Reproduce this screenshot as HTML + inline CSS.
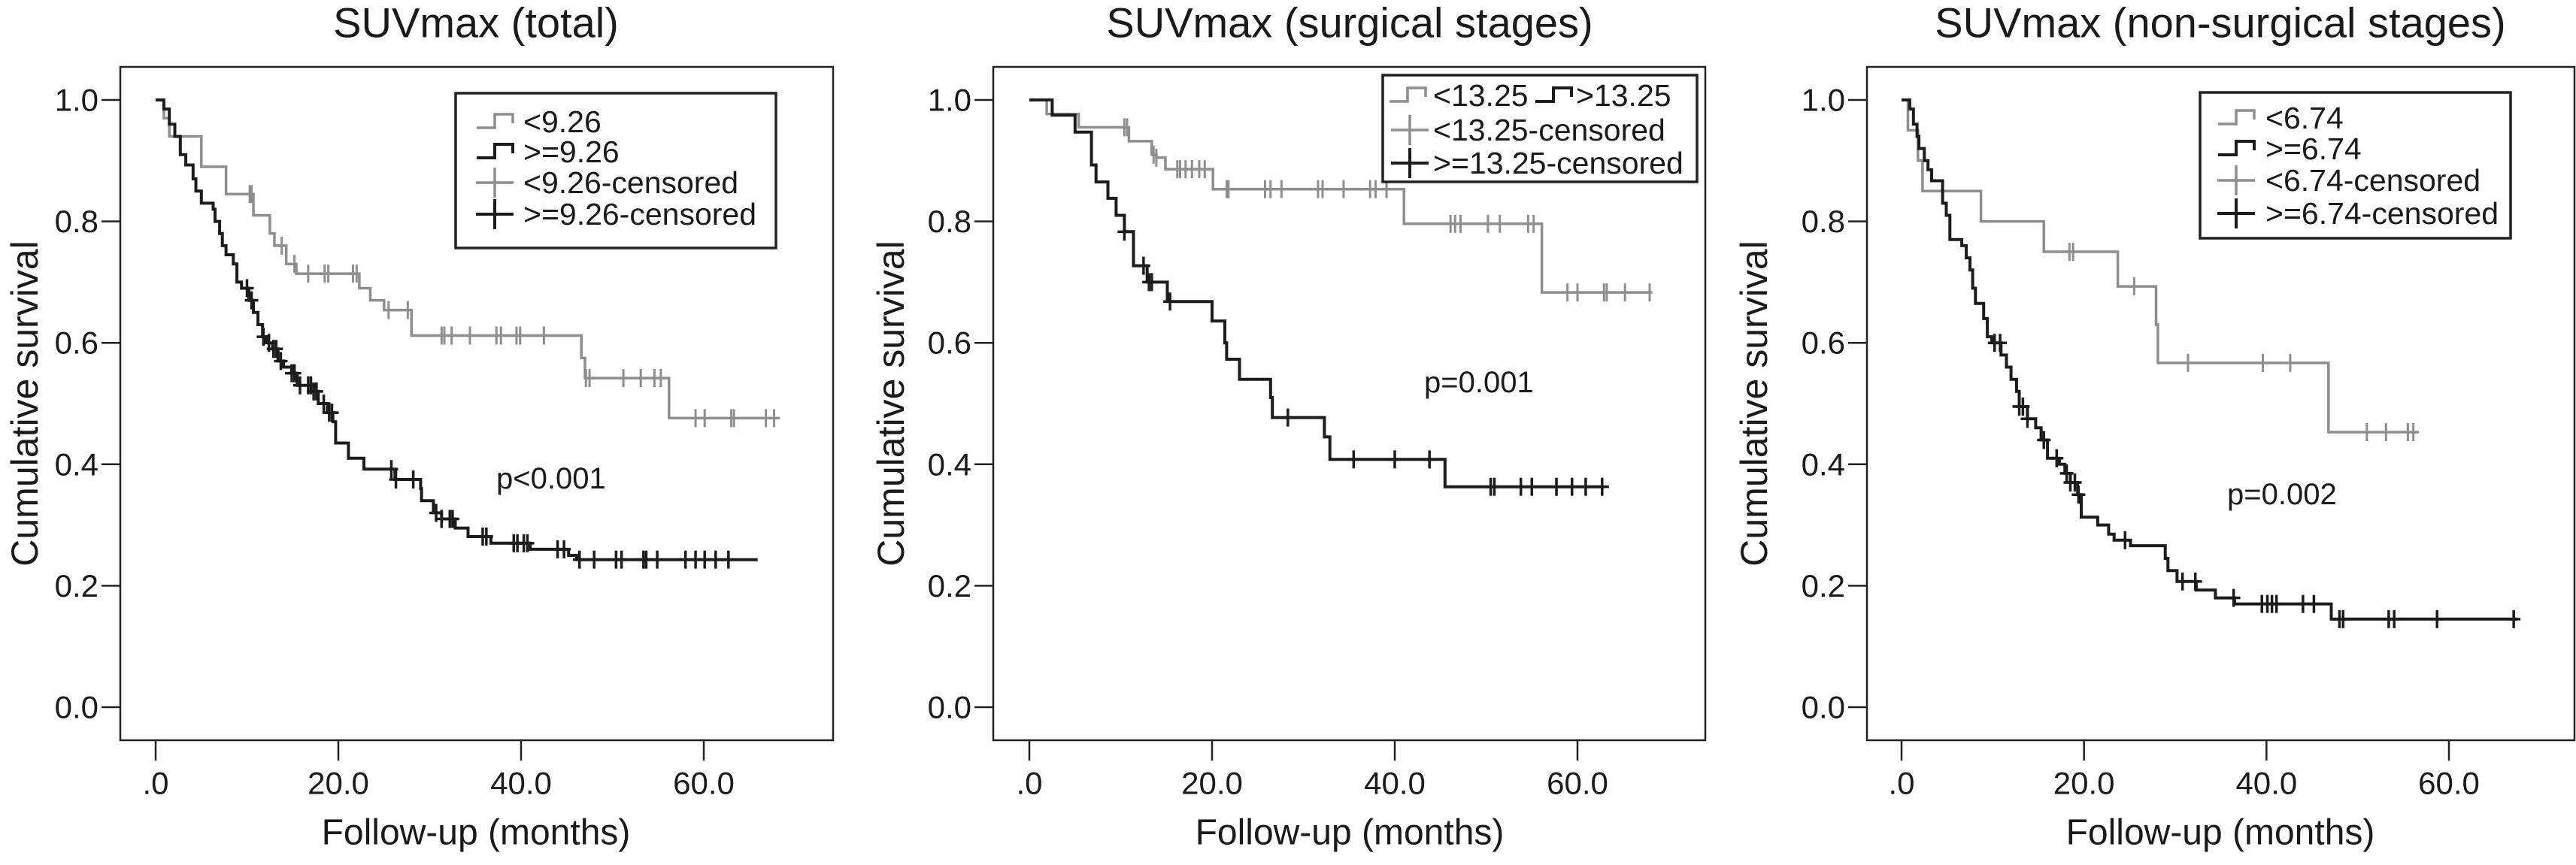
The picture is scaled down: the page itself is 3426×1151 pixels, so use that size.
<!DOCTYPE html>
<html><head><meta charset="utf-8">
<style>
html,body{margin:0;padding:0;background:#fff;}
svg{display:block;font-family:"Liberation Sans",Arial,sans-serif;}
</style></head>
<body>
<svg id="fig" width="3426" height="1151" viewBox="0 0 3426 1151" xmlns="http://www.w3.org/2000/svg"></svg>
<script>
// ---------- data (months, survival) ----------
const yTicks = [0, 0.2, 0.4, 0.6, 0.8, 1.0];
const yTickLabels = ["0.0", "0.2", "0.4", "0.6", "0.8", "1.0"];
const xTicks = [0, 20, 40, 60];
const xTickLabels = [".0", "20.0", "40.0", "60.0"];

// Panel 1: SUVmax (total)
const p1LowTimes = [0.9,1.5,5.0,7.7,10.7,12.5,13.0,14.3,15.4,22.3,23.5,25.0,28.0,46.6,47.0,56.2];
const p1LowSurv  = [0.97,0.94,0.89,0.845,0.81,0.78,0.76,0.73,0.714,0.69,0.67,0.654,0.612,0.575,0.542,0.476];
const p1LowEnd = 68.3;
const p1LowCens = [10.3,10.5,13.8,15.2,16.7,18.5,18.9,21.6,22.0,25.5,27.6,31.3,31.6,32.4,34.4,37.3,37.8,39.5,39.9,42.5,47.1,47.5,51.2,53.1,54.6,55.3,59.1,60.1,63.0,63.3,66.8,67.7];
const p1HighTimes = [0.9,1.5,2.1,2.7,3.3,4.1,4.4,5.0,6.3,6.5,7.0,7.3,7.7,8.5,8.9,9.4,10.2,10.7,11.2,11.7,12.1,12.8,13.4,14.0,14.9,15.5,17.3,17.8,18.8,19.4,19.7,21.1,22.8,26.2,29.0,29.1,30.4,31.3,32.8,34.2,36.7,41.0,45.2,46.1];
const p1HighSurv  = [0.985,0.96,0.94,0.91,0.893,0.87,0.85,0.83,0.82,0.80,0.78,0.76,0.745,0.73,0.70,0.69,0.67,0.65,0.63,0.61,0.60,0.59,0.57,0.56,0.55,0.53,0.52,0.50,0.485,0.47,0.435,0.41,0.392,0.375,0.36,0.34,0.32,0.31,0.295,0.281,0.27,0.26,0.25,0.243];
const p1HighEnd = 65.9;
const p1HighCens = [10.0,10.5,11.8,12.4,12.9,13.2,13.7,14.9,15.2,15.8,16.7,17.0,17.3,17.6,18.4,19.0,19.3,25.8,26.3,28.2,30.7,31.3,32.2,32.5,35.8,36.2,39.2,39.6,40.3,40.7,44.0,44.7,46.4,48.0,50.4,51.0,53.4,53.7,54.9,58.0,59.1,60.1,61.3,62.7];

// Panel 2: SUVmax (surgical stages)
const p2LowTimes = [1.9,5.4,10.9,13.4,13.9,14.9,20.1,41.0,56.1];
const p2LowSurv  = [0.977,0.955,0.932,0.91,0.905,0.886,0.853,0.796,0.683];
const p2LowEnd = 68.2;
const p2LowCens = [10.4,10.7,13.6,13.9,16.2,16.5,17.1,17.8,18.6,19.2,21.6,21.8,25.8,26.4,27.6,31.6,32.1,34.4,37.3,37.9,39.1,46.1,46.6,47.2,50.2,51.5,54.6,55.2,58.9,60.0,62.9,63.2,65.2,67.9];
const p2HighTimes = [2.5,5.0,6.8,7.3,8.6,9.5,10.4,11.4,12.9,15.1,20.0,21.4,21.6,23.0,26.4,26.6,32.3,32.9,45.5];
const p2HighSurv  = [0.975,0.947,0.893,0.865,0.838,0.81,0.783,0.727,0.70,0.668,0.636,0.60,0.573,0.54,0.51,0.477,0.445,0.408,0.363];
const p2HighEnd = 62.9;
const p2HighCens = [10.4,12.5,13.1,13.4,15.4,28.3,35.5,40.0,43.8,50.5,50.9,53.8,55.0,57.7,59.4,60.9,62.7];

// Panel 3: SUVmax (non-surgical stages)
const p3LowTimes = [0.7,1.8,2.3,8.7,15.6,23.7,27.9,28.1,46.8];
const p3LowSurv  = [0.95,0.90,0.85,0.80,0.75,0.693,0.63,0.567,0.453];
const p3LowEnd = 56.7;
const p3LowCens = [18.4,18.8,25.5,31.4,39.6,42.6,51.0,53.1,55.5,56.1];
const p3HighTimes = [0.9,1.3,1.7,1.9,2.5,2.9,3.3,4.5,4.9,5.3,6.6,7.1,7.5,7.8,8.1,9.0,9.4,9.9,10.9,11.5,12.0,12.6,12.9,13.8,14.7,15.3,16.0,17.3,17.9,18.5,19.3,19.7,21.5,22.7,23.3,25.1,28.9,29.2,30.2,32.3,34.4,36.5,47.1];
const p3HighSurv  = [0.985,0.96,0.94,0.92,0.90,0.885,0.867,0.83,0.81,0.77,0.76,0.74,0.72,0.69,0.665,0.64,0.61,0.60,0.58,0.56,0.54,0.52,0.495,0.475,0.46,0.44,0.41,0.40,0.385,0.37,0.35,0.313,0.30,0.285,0.275,0.266,0.245,0.225,0.207,0.193,0.18,0.17,0.145];
const p3HighEnd = 67.5;
const p3HighCens = [10.2,10.8,12.9,13.3,13.8,15.6,17.0,18.1,18.5,19.0,19.4,24.5,30.8,32.2,36.4,39.5,40.1,40.6,41.1,44.0,45.2,48.0,48.4,53.4,54.0,58.7,67.1];

// ---------- drawing ----------
const NS = "http://www.w3.org/2000/svg";
const svg = document.getElementById("fig");
const GRAY = "#8e8e8e", BLACK = "#1c1c1c";
function mk(tag, attrs, parent){
  const e = document.createElementNS(NS, tag);
  for (const k in attrs) e.setAttribute(k, attrs[k]);
  (parent||svg).appendChild(e);
  return e;
}
function txt(parent, x, y, s, size, anchor, extra){
  const t = mk("text", Object.assign({x:x, y:y, "font-size":size, "text-anchor":anchor||"start", "dominant-baseline":"central", fill:"#1a1a1a"}, extra||{}), parent);
  t.textContent = s;
  return t;
}
function survAt(times, surv, t){
  let s = 1;
  for (let i=0;i<times.length;i++){ if (times[i] <= t) s = surv[i]; }
  return s;
}
function drawPanel(cfg){
  const g = mk("g", {});
  
  
  const xs = m => cfg.x0 + (m/60)*(cfg.x60 - cfg.x0);
  const ys = v => 941 - v*808;
  const ti = txt(g, cfg.titleX, 30, cfg.title, 56, "middle");
  
  
  const fr = mk("rect", {x:cfg.fl, y:89, width:cfg.fr-cfg.fl, height:985-89, fill:"none", stroke:"#222", "stroke-width":2.5}, g);
  
  
  const yax = mk("g", {}, g);
  
  
  yTicks.forEach((v,i)=>{
    mk("line", {x1:cfg.fl-25, x2:cfg.fl, y1:ys(v), y2:ys(v), stroke:"#222", "stroke-width":2.5}, yax);
    const l = txt(yax, cfg.fl-29, ys(v), yTickLabels[i], 42, "end");
    
    
  });
  const xax = mk("g", {}, g);
  
  
  xTicks.forEach((v,i)=>{
    mk("line", {x1:xs(v), x2:xs(v), y1:985, y2:1012, stroke:"#222", "stroke-width":2.5}, xax);
    const l = txt(xax, xs(v), 1042, xTickLabels[i], 42, "middle");
    
    
  });
  const xt = txt(g, cfg.titleX, 1108, "Follow-up (months)", 48, "middle");
  
  
  const yt = txt(g, 0, 0, "Cumulative survival", 50, "middle", {transform:"translate("+cfg.yLabelX+",537) rotate(-90)"});
  
  
  cfg.series.forEach(sr=>{
    let d = "M"+xs(0)+","+ys(1);
    sr.times.forEach((t,i)=>{ d += " H"+xs(t).toFixed(1)+" V"+ys(sr.surv[i]).toFixed(1); });
    d += " H"+xs(sr.end).toFixed(1);
    const p = mk("path", {d:d, fill:"none", stroke:sr.color, "stroke-width":sr.w}, g);
    
    
    sr.cens.forEach(c=>{
      const cx = xs(c), cy = ys(survAt(sr.times, sr.surv, c));
      const m = mk("line", {x1:cx, x2:cx, y1:cy-12, y2:cy+12, stroke:sr.color, "stroke-width":sr.w-0.5}, g);
      
      
      if (sr.plus){
        const h = mk("line", {x1:cx-9, x2:cx+9, y1:cy, y2:cy, stroke:sr.color, "stroke-width":sr.w-0.5}, g);
        
        
      }
    });
  });
  const pv = txt(g, cfg.pX, cfg.pY, cfg.pText, 40, "start");
  
  
  const L = cfg.legend;
  const lg = mk("g", {}, g);
  
  
  mk("rect", {x:L.x, y:L.y, width:L.w, height:L.h, fill:"#fff", stroke:"#222", "stroke-width":3.5}, lg);
  L.items.forEach(it=>{
    const sx = it.sx, cy = it.cy, col = it.color;
    if (it.type === "step"){
      mk("path", {d:"M"+sx+","+(cy+8)+" H"+(sx+24)+" V"+(cy-10)+" H"+(sx+48)+" V"+(cy+2), fill:"none", stroke:col, "stroke-width":it.w}, lg);
    } else {
      mk("line", {x1:sx, x2:sx+50, y1:cy, y2:cy, stroke:col, "stroke-width":it.w}, lg);
      mk("line", {x1:sx+25, x2:sx+25, y1:cy-20, y2:cy+20, stroke:col, "stroke-width":it.w}, lg);
    }
    const t = txt(lg, it.tx, cy, it.label, 41, "start");
    
    
  });
}

drawPanel({name:"panel-total", title:"SUVmax (total)", titleX:633, fl:160, fr:1108, x0:207, x60:936, yLabelX:33,
  pText:"p<0.001", pX:660, pY:637,
  series:[
    {name:"low", times:p1LowTimes, surv:p1LowSurv, end:p1LowEnd, cens:p1LowCens, color:GRAY, w:3.5, plus:false},
    {name:"high", times:p1HighTimes, surv:p1HighSurv, end:p1HighEnd, cens:p1HighCens, color:BLACK, w:4, plus:true}],
  legend:{x:606, y:124, w:426, h:206, items:[
    {type:"step", sx:634, cy:162, color:GRAY, w:3.5, tx:696, label:"<9.26"},
    {type:"step", sx:634, cy:202, color:BLACK, w:4, tx:696, label:">=9.26"},
    {type:"plus", sx:633, cy:243, color:GRAY, w:3.5, tx:696, label:"<9.26-censored"},
    {type:"plus", sx:633, cy:285, color:BLACK, w:4, tx:696, label:">=9.26-censored"}]}
});
drawPanel({name:"panel-surgical", title:"SUVmax (surgical stages)", titleX:1795, fl:1321, fr:2268, x0:1369, x60:2098, yLabelX:1185,
  pText:"p=0.001", pX:1894, pY:509,
  series:[
    {name:"low", times:p2LowTimes, surv:p2LowSurv, end:p2LowEnd, cens:p2LowCens, color:GRAY, w:3.5, plus:false},
    {name:"high", times:p2HighTimes, surv:p2HighSurv, end:p2HighEnd, cens:p2HighCens, color:BLACK, w:4, plus:true}],
  legend:{x:1839, y:100, w:418, h:142, items:[
    {type:"step", sx:1848, cy:127, color:GRAY, w:3.5, tx:1906, label:"<13.25"},
    {type:"step", sx:2042, cy:127, color:BLACK, w:4, tx:2096, label:">13.25"},
    {type:"plus", sx:1850, cy:173, color:GRAY, w:3.5, tx:1906, label:"<13.25-censored"},
    {type:"plus", sx:1850, cy:217, color:BLACK, w:4, tx:1906, label:">=13.25-censored"}]}
});
drawPanel({name:"panel-non-surgical", title:"SUVmax (non-surgical stages)", titleX:2953, fl:2483, fr:3424, x0:2529, x60:3257, yLabelX:2333,
  pText:"p=0.002", pX:2962, pY:658,
  series:[
    {name:"low", times:p3LowTimes, surv:p3LowSurv, end:p3LowEnd, cens:p3LowCens, color:GRAY, w:3.5, plus:false},
    {name:"high", times:p3HighTimes, surv:p3HighSurv, end:p3HighEnd, cens:p3HighCens, color:BLACK, w:4, plus:true}],
  legend:{x:2926, y:123, w:413, h:194, items:[
    {type:"step", sx:2950, cy:157, color:GRAY, w:3.5, tx:3013, label:"<6.74"},
    {type:"step", sx:2950, cy:198, color:BLACK, w:4, tx:3013, label:">=6.74"},
    {type:"plus", sx:2949, cy:240, color:GRAY, w:3.5, tx:3013, label:"<6.74-censored"},
    {type:"plus", sx:2949, cy:284, color:BLACK, w:4, tx:3013, label:">=6.74-censored"}]}
});
</script>
</body></html>
